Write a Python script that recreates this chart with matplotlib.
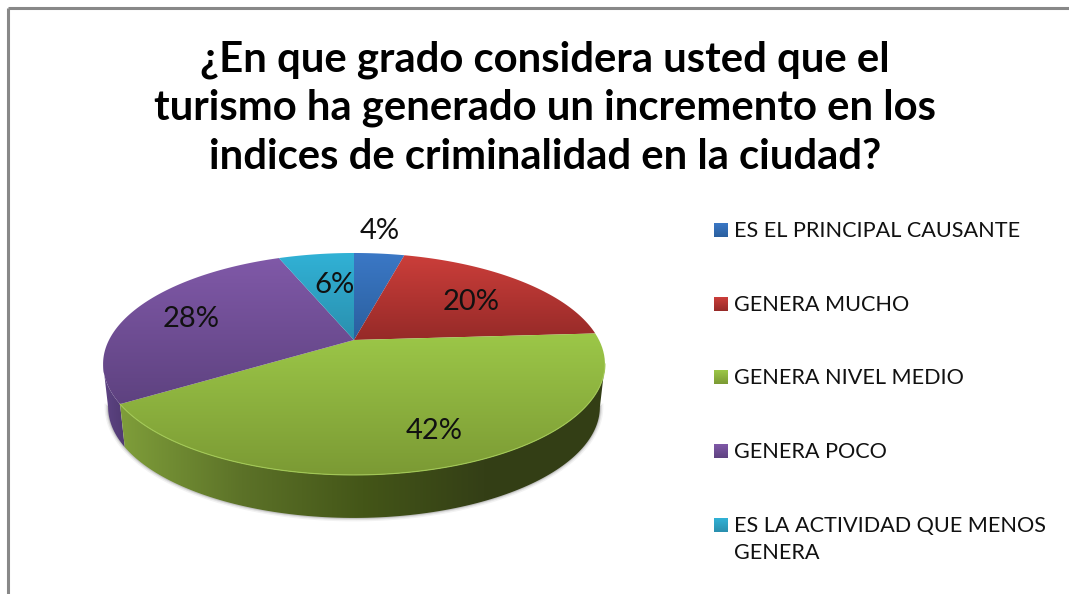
import numpy as np
import matplotlib
matplotlib.use("Agg")
import matplotlib.pyplot as plt
from matplotlib.patches import Polygon

plt.rcParams["font.family"] = ["Lato", "DejaVu Sans"]

title_lines = ["¿En que grado considera usted que el",
               "turismo ha generado un incremento en los",
               "indices de criminalidad en la ciudad?"]
categories = ["ES EL PRINCIPAL CAUSANTE", "GENERA MUCHO", "GENERA NIVEL MEDIO",
              "GENERA POCO", "ES LA ACTIVIDAD QUE MENOS\nGENERA"]
values = [4, 20, 42, 28, 6]

top_colors = ["#3b78c6", "#cb3e3a", "#9cc748", "#8059a8", "#31b2d6"]
bottom_colors = ["#2a5f9e", "#962a28", "#7b9a34", "#5e4280", "#2a8fae"]
label_xy = [(380, 231), (471, 302), (434, 431), (191, 319), (334, 285)]
legend_y = [230, 304, 377, 451, 525]

# pie is a tilted circle, squashed with a perspective factor so the
# centre sits above the middle of the ellipse
CX, CY = 354, 340
PERSP = 0.216
KX, KY = 245, 105.8
DEPTH = 43


def project(t):
    x, y = np.cos(t), np.sin(t)
    d = 1 + PERSP * y
    return CX + KX * x / d, CY - KY * y / d


def lower(px, py):
    return CX + (px - CX) * 0.98, py + DEPTH


def gradient_fill(ax, pts, colors, horizontal=False, zorder=2):
    pts = np.array(pts)
    poly = Polygon(pts, closed=True, facecolor="none", edgecolor="none")
    ax.add_patch(poly)
    cmap = matplotlib.colors.LinearSegmentedColormap.from_list("g", colors)
    g = np.linspace(0, 1, 256)
    g = g.reshape(1, -1) if horizontal else g.reshape(-1, 1)
    x0, x1, y0, y1 = pts[:, 0].min(), pts[:, 0].max(), pts[:, 1].min(), pts[:, 1].max()
    im = ax.imshow(g, cmap=cmap, extent=(x0, x1, y1, y0), aspect="auto", zorder=zorder, interpolation="bilinear")
    im.set_clip_path(poly)


fig = plt.figure(figsize=(10.69, 5.94), dpi=100)
ax = fig.add_axes([0, 0, 1, 1])

fracs = np.cumsum([0] + values) / sum(values)
angles = np.pi / 2 - 2 * np.pi * fracs

t_ext = np.arcsin(PERSP)
# side wall, only the front part can be seen
t_left, t_right = np.pi + t_ext - 2 * np.pi, -t_ext
t_gp = angles[3]

ts = np.linspace(t_left, t_gp, 40)
px, py = project(ts)
lx, ly = lower(px, py)
purple_side = np.r_[np.c_[px, py], np.c_[lx, ly][::-1]]
gradient_fill(ax, purple_side, ["#5e4484", "#503a72"], horizontal=True)

ts = np.linspace(t_gp, t_right, 120)
px, py = project(ts)
lx, ly = lower(px, py)
green_side = np.r_[np.c_[px, py], np.c_[lx, ly][::-1]]
gradient_fill(ax, green_side, ["#7f9e3a", "#5c7228", "#445618", "#343f16", "#333e15"], horizontal=True)

# soft shadow under the wall
for w, a in [(5, 0.05), (3, 0.08), (1.5, 0.12)]:
    ts = np.linspace(t_left, t_right, 160)
    px, py = project(ts)
    lx, ly = lower(px, py)
    ax.plot(lx, ly, color="black", lw=w, alpha=a, zorder=1)

# top face
for i in range(len(values)):
    ts = np.linspace(angles[i], angles[i + 1], 80)
    px, py = project(ts)
    pts = np.r_[[[CX, CY]], np.c_[px, py]]
    gradient_fill(ax, pts, [top_colors[i], bottom_colors[i]], zorder=3)

ts = np.linspace(t_gp, t_right, 120)
px, py = project(ts)
ax.plot(px, py, color="#a2c855", lw=0.8, zorder=4)

for v, (x, y) in zip(values, label_xy):
    ax.text(x, y, f"{v}%", fontsize=21, color="#111111", ha="center", va="center", zorder=5)

for line, y in zip(title_lines, [60, 108, 157]):
    ax.text(545, y, line, fontsize=30.2, fontweight="bold", color="black", ha="center", va="center")

# legend drawn by hand, the marker stays on the first line of a wrapped label
for name, y, c0, c1 in zip(categories, legend_y, top_colors, bottom_colors):
    square = [(714, y - 7), (728, y - 7), (728, y + 7), (714, y + 7)]
    gradient_fill(ax, square, [c0, c1], zorder=3)
    ax.text(734, y - 9, name, fontsize=15.6, color="#111111", ha="left", va="top", linespacing=1.45)

ax.plot([8, 8], [594, 8], color="#888888", lw=2.2, zorder=6, solid_capstyle="butt")
ax.plot([8, 1069], [8, 8], color="#888888", lw=2.2, zorder=6, solid_capstyle="butt")

ax.set_xlim(0, 1069)
ax.set_ylim(594, 0)
ax.axis("off")
fig.savefig("out.png", dpi=100)
